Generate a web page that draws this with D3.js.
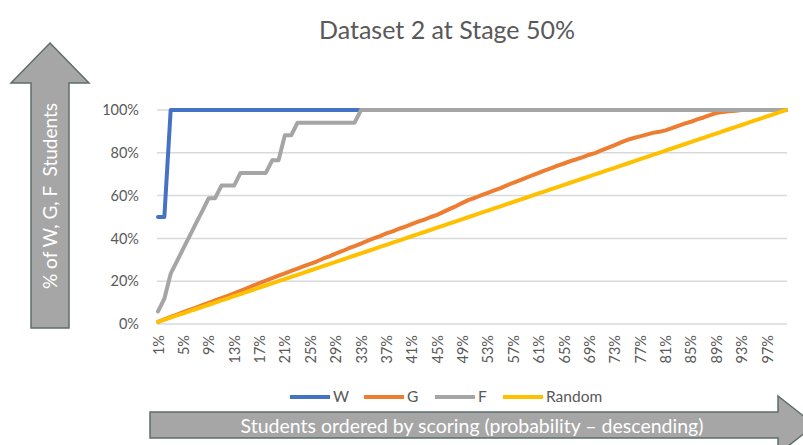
<!DOCTYPE html>
<html>
<head>
<meta charset="utf-8">
<script src="https://cdn.jsdelivr.net/npm/d3@7"></script>
<style>
  body { margin: 0; background: #fff; }
  svg { display: block; font-family: Lato, "Noto Sans", sans-serif; }
</style>
</head>
<body>
<div id="chart"></div>
<script>
// category axis: share of students (1% .. 100%)
var categories = [
  1, 2, 3, 4, 5, 6, 7, 8, 9, 10,
  11, 12, 13, 14, 15, 16, 17, 18, 19, 20,
  21, 22, 23, 24, 25, 26, 27, 28, 29, 30,
  31, 32, 33, 34, 35, 36, 37, 38, 39, 40,
  41, 42, 43, 44, 45, 46, 47, 48, 49, 50,
  51, 52, 53, 54, 55, 56, 57, 58, 59, 60,
  61, 62, 63, 64, 65, 66, 67, 68, 69, 70,
  71, 72, 73, 74, 75, 76, 77, 78, 79, 80,
  81, 82, 83, 84, 85, 86, 87, 88, 89, 90,
  91, 92, 93, 94, 95, 96, 97, 98, 99, 100
];
var xTickLabels = ["1%", "5%", "9%", "13%", "17%", "21%", "25%", "29%", "33%", "37%",
  "41%", "45%", "49%", "53%", "57%", "61%", "65%", "69%", "73%", "77%",
  "81%", "85%", "89%", "93%", "97%"];
var yTickValues = [0, 20, 40, 60, 80, 100];
var yTickLabels = ["0%", "20%", "40%", "60%", "80%", "100%"];

var seriesNames = ["W", "G", "F", "Random"];
var seriesColors = ["#4472C4", "#ED7D31", "#A5A5A5", "#FFC000"];

var wValues = [
  50, 50, 100, 100, 100, 100, 100, 100, 100, 100,
  100, 100, 100, 100, 100, 100, 100, 100, 100, 100,
  100, 100, 100, 100, 100, 100, 100, 100, 100, 100,
  100, 100, 100, 100, 100, 100, 100, 100, 100, 100,
  100, 100, 100, 100, 100, 100, 100, 100, 100, 100,
  100, 100, 100, 100, 100, 100, 100, 100, 100, 100,
  100, 100, 100, 100, 100, 100, 100, 100, 100, 100,
  100, 100, 100, 100, 100, 100, 100, 100, 100, 100,
  100, 100, 100, 100, 100, 100, 100, 100, 100, 100,
  100, 100, 100, 100, 100, 100, 100, 100, 100, 100
];
var gValues = [
  1.0, 2.2, 3.3, 4.4, 5.5, 6.6, 7.7, 8.8, 9.9, 11.0,
  12.1, 13.2, 14.3, 15.5, 16.7, 17.9, 19.1, 20.3, 21.4, 22.6,
  23.7, 24.8, 25.9, 27.0, 28.1, 29.2, 30.5, 31.6, 32.9, 34.0,
  35.3, 36.4, 37.6, 38.8, 40.0, 41.1, 42.3, 43.3, 44.5, 45.5,
  46.7, 47.8, 48.8, 50.0, 51.0, 52.4, 53.8, 55.1, 56.6, 58.0,
  59.0, 60.2, 61.3, 62.4, 63.5, 64.8, 66.0, 67.1, 68.3, 69.5,
  70.6, 71.8, 72.8, 74.0, 75.0, 76.1, 77.0, 78.0, 79.1, 80.0,
  81.3, 82.4, 83.6, 84.9, 86.0, 86.9, 87.7, 88.5, 89.3, 89.8,
  90.5, 91.5, 92.6, 93.6, 94.5, 95.6, 96.5, 97.6, 98.6, 99.1,
  99.4, 99.7, 100, 100, 100, 100, 100, 100, 100, 100
];
var fValues = [
  5.9, 11.8, 23.5, 29.4, 35.3, 41.2, 47.1, 52.9, 58.8, 58.8,
  64.7, 64.7, 64.7, 70.6, 70.6, 70.6, 70.6, 70.6, 76.5, 76.5,
  88.2, 88.2, 94.1, 94.1, 94.1, 94.1, 94.1, 94.1, 94.1, 94.1,
  94.1, 94.1, 100, 100, 100, 100, 100, 100, 100, 100,
  100, 100, 100, 100, 100, 100, 100, 100, 100, 100,
  100, 100, 100, 100, 100, 100, 100, 100, 100, 100,
  100, 100, 100, 100, 100, 100, 100, 100, 100, 100,
  100, 100, 100, 100, 100, 100, 100, 100, 100, 100,
  100, 100, 100, 100, 100, 100, 100, 100, 100, 100,
  100, 100, 100, 100, 100, 100, 100, 100, 100, 100
];
var randomValues = [
  1, 2, 3, 4, 5, 6, 7, 8, 9, 10,
  11, 12, 13, 14, 15, 16, 17, 18, 19, 20,
  21, 22, 23, 24, 25, 26, 27, 28, 29, 30,
  31, 32, 33, 34, 35, 36, 37, 38, 39, 40,
  41, 42, 43, 44, 45, 46, 47, 48, 49, 50,
  51, 52, 53, 54, 55, 56, 57, 58, 59, 60,
  61, 62, 63, 64, 65, 66, 67, 68, 69, 70,
  71, 72, 73, 74, 75, 76, 77, 78, 79, 80,
  81, 82, 83, 84, 85, 86, 87, 88, 89, 90,
  91, 92, 93, 94, 95, 96, 97, 98, 99, 100
];

var width = 803, height = 445;
var plot = { left: 158, right: 786, top: 110, bottom: 324 };

var svg = d3.select("#chart")
    .append("svg")
    .attr("width", width)
    .attr("height", height);

var x = d3.scaleLinear()
    .domain([categories[0], categories[categories.length - 1]])
    .range([plot.left, plot.right]);

var y = d3.scaleLinear()
    .domain([0, 100])
    .range([plot.bottom, plot.top]);

// title
svg.append("text")
    .attr("x", 447)
    .attr("y", 39)
    .attr("text-anchor", "middle")
    .style("font-size", "25px")
    .style("fill", "#595959")
    .text("Dataset 2 at Stage 50%");

// gridlines
svg.append("g")
    .selectAll("line")
    .data(yTickValues)
    .enter()
    .append("line")
    .attr("x1", plot.left - 1)
    .attr("x2", plot.right + 1)
    .attr("y1", function (d) { return y(d); })
    .attr("y2", function (d) { return y(d); })
    .style("stroke", "#D9D9D9")
    .style("stroke-width", 1.5);

// y axis labels
var yAxis = d3.axisLeft(y)
    .tickValues(yTickValues)
    .tickSize(0)
    .tickPadding(0)
    .tickFormat(function (d, i) { return yTickLabels[i]; });

var gy = svg.append("g")
    .attr("transform", "translate(" + (plot.left - 19) + ",0)")
    .call(yAxis);
gy.select(".domain").remove();
gy.selectAll("text")
    .style("font-family", "Lato, 'Noto Sans', sans-serif")
    .style("font-size", "14.5px")
    .style("fill", "#595959");

// x axis labels (every 4th category, rotated)
var xAxis = d3.axisBottom(x)
    .tickValues(xTickLabels.map(function (l) { return parseInt(l); }))
    .tickSize(0)
    .tickPadding(0)
    .tickFormat(function (d, i) { return xTickLabels[i]; });

var gx = svg.append("g")
    .attr("transform", "translate(0," + plot.bottom + ")")
    .call(xAxis);
gx.select(".domain").remove();
gx.selectAll("text")
    .attr("transform", "rotate(-90)")
    .attr("x", -11)
    .attr("y", 0)
    .attr("dy", "0.35em")
    .style("text-anchor", "end")
    .style("font-family", "Lato, 'Noto Sans', sans-serif")
    .style("font-size", "14.5px")
    .style("fill", "#595959");

// lines
var allSeries = [wValues, gValues, fValues, randomValues];
var line = d3.line()
    .x(function (d, i) { return x(categories[i]); })
    .y(function (d) { return y(d); });

svg.append("g")
    .selectAll("path")
    .data(allSeries)
    .enter()
    .append("path")
    .attr("d", line)
    .style("fill", "none")
    .style("stroke", function (d, i) { return seriesColors[i]; })
    .style("stroke-width", 4)
    .style("stroke-linejoin", "round")
    .style("stroke-linecap", "round");

// legend
var legendX = [290, 364, 435, 503];
var legend = svg.append("g")
    .selectAll("g")
    .data(seriesNames)
    .enter()
    .append("g")
    .attr("transform", function (d, i) { return "translate(" + legendX[i] + ",397)"; });

legend.append("line")
    .attr("x1", 0)
    .attr("x2", 40)
    .style("stroke", function (d, i) { return seriesColors[i]; })
    .style("stroke-width", 4);

legend.append("text")
    .attr("x", 43)
    .attr("dy", "0.35em")
    .style("font-size", "15.5px")
    .style("fill", "#595959")
    .text(function (d) { return d; });

// y arrow
var arrowFill = "#A6A6A6", arrowStroke = "#5E6E6B";
svg.append("path")
    .attr("d", "M50,43 L89,83 L69,83 L69,328 L31,328 L31,83 L11,83 Z")
    .style("fill", arrowFill)
    .style("stroke", arrowStroke)
    .style("stroke-width", 1.5);

svg.append("text")
    .attr("transform", "translate(50,196) rotate(-90)")
    .attr("text-anchor", "middle")
    .attr("dy", "0.35em")
    .style("font-size", "19px")
    .style("fill", "#fff")
    .style("white-space", "pre")
    .text("% of W, G, F  Students");

// x arrow
svg.append("path")
    .attr("d", "M150,412 L778,412 L778,396 L815,425 L778,454 L778,438 L150,438 Z")
    .style("fill", arrowFill)
    .style("stroke", arrowStroke)
    .style("stroke-width", 1.5);

svg.append("text")
    .attr("x", 472)
    .attr("y", 426)
    .attr("text-anchor", "middle")
    .attr("dy", "0.35em")
    .style("font-size", "19.5px")
    .style("fill", "#fff")
    .text("Students ordered by scoring (probability \u2013 descending)");
</script>
</body>
</html>
